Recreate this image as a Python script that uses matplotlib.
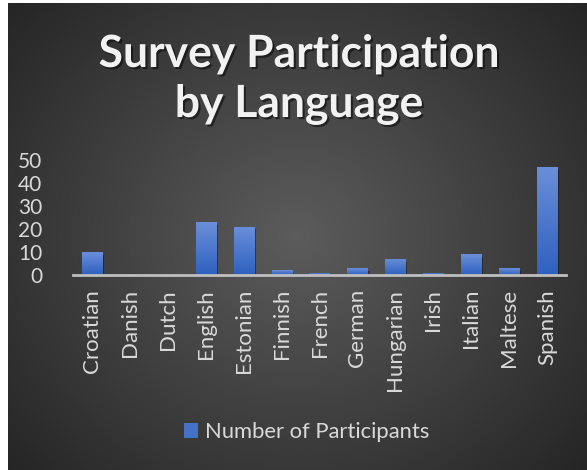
import numpy as np
import matplotlib
matplotlib.use('Agg')
import matplotlib.pyplot as plt
import matplotlib.patheffects as pe
from matplotlib.patches import Patch

languages = ['Croatian', 'Danish', 'Dutch', 'English', 'Estonian', 'Finnish',
             'French', 'German', 'Hungarian', 'Irish', 'Italian', 'Maltese',
             'Spanish']
participants = [10, 0, 0, 23, 21, 2, 1, 3, 7, 1, 9, 3, 47]
yticks = [0, 10, 20, 30, 40, 50]

plt.rcParams['font.family'] = ['Lato', 'DejaVu Sans']
W, H = 587, 470
fig = plt.figure(figsize=(W / 100, H / 100), dpi=100)
fig.patch.set_facecolor('white')

# dark radial backdrop
bg = fig.add_axes([8 / W, 0, 1 - 8 / W, 1 - 3 / H])
yy, xx = np.mgrid[0:1:300j, 0:1:300j]
r = np.sqrt(((xx - 0.5) / 0.75) ** 2 + ((yy - 0.5) / 0.85) ** 2)
shade = np.clip(0.36 - 0.24 * r, 0.14, 0.36)
bg.imshow(np.dstack([shade] * 3), aspect='auto', extent=(0, 1, 0, 1),
          interpolation='bilinear')
bg.set_axis_off()

ax = fig.add_axes([73 / W, 1 - 275 / H, 493 / W, 115 / H])
ax.set_facecolor('none')
x = np.arange(len(languages))
bars = ax.bar(x, participants, width=0.53, color='#4472c4', zorder=2,
              path_effects=[pe.withSimplePatchShadow(offset=(1.5, -2),
                                                     shadow_rgbFace='black',
                                                     alpha=0.35)])

# vertical gradient inside each bar
grad = np.linspace(0, 1, 100).reshape(-1, 1)
top_c = np.array([0.42, 0.56, 0.85])
bot_c = np.array([0.18, 0.38, 0.75])
img = (grad[..., None] * top_c + (1 - grad[..., None]) * bot_c)
for b in bars:
    if b.get_height() <= 0:
        continue
    im = ax.imshow(img, aspect='auto', origin='lower', zorder=3,
                   extent=(b.get_x(), b.get_x() + b.get_width(),
                           0, b.get_height()))
    im.set_clip_path(b)

ax.set_xlim(-0.5, len(languages) - 0.5)
ax.set_ylim(0, 50)
ax.set_yticks(yticks)
ax.set_xticks(x)
ax.set_xticklabels(languages, rotation=90)
for s in ['top', 'right', 'left']:
    ax.spines[s].set_visible(False)
ax.spines['bottom'].set_color('#bfbfbf')
ax.spines['bottom'].set_linewidth(2)
ax.spines['bottom'].set_zorder(4)
ax.tick_params(length=0, colors='#d9d9d9', labelsize=15)
ax.tick_params(axis='x', labelsize=16, pad=10)
ax.tick_params(axis='y', pad=22)

shadow = [pe.withSimplePatchShadow(offset=(1.5, -1.5), shadow_rgbFace='black',
                                   alpha=0.5)]
fig.text(0.51, 1 - 67 / H, 'Survey Participation', ha='center', va='baseline',
         fontsize=32, fontweight='bold', color='#f2f2f2', path_effects=shadow)
fig.text(0.51, 1 - 117 / H, 'by Language', ha='center', va='baseline',
         fontsize=32, fontweight='bold', color='#f2f2f2', path_effects=shadow)

fig.legend(handles=[Patch(facecolor='#4472c4', label='Number of Participants')],
           loc='center', bbox_to_anchor=(0.522, 1 - 432 / H), frameon=False,
           fontsize=15.8, labelcolor='#d9d9d9', handlelength=0.65,
           handleheight=0.65, handletextpad=0.3)

fig.savefig('out.png', dpi=100)
